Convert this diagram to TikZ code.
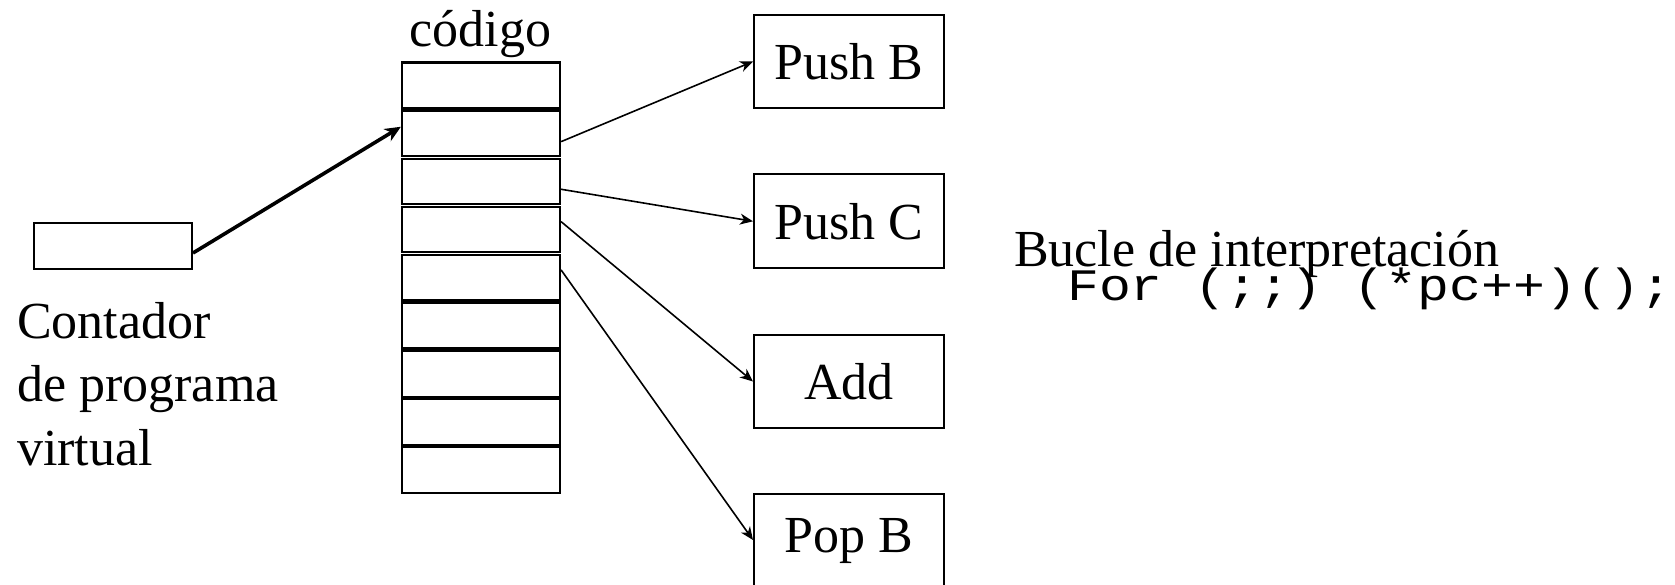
\documentclass[tikz,border=0pt]{standalone}
\usepackage{fontspec}
\setmainfont{Liberation Serif}
\setmonofont{Liberation Mono}
\newfontfamily\codefont[FakeStretch=1.18]{Liberation Mono}
\usetikzlibrary{arrows.meta}
\begin{document}
\begin{tikzpicture}[x=1pt,y=-1pt,
  cell/.style={draw,line width=2.2pt,minimum width=158pt,minimum height=45.5pt,inner sep=0pt},
  opbox/.style={draw,line width=2pt,minimum width=190pt,minimum height=93.6pt,inner sep=0pt,font=\fontsize{52}{62}\selectfont},
  pcbox/.style={draw,line width=2pt,minimum width=158pt,minimum height=46pt,inner sep=0pt},
  lbl/.style={inner sep=0pt,font=\fontsize{52}{63.5}\selectfont},
  thin/.style={line width=1.6pt,-{Stealth[length=13pt,width=11pt,inset=4pt]}},
  thick/.style={line width=3.6pt,-{Stealth[length=16pt,width=14pt,inset=5pt]}}]
\useasboundingbox (0,0) rectangle (1675,585);
% code stack
\foreach \i in {1,...,9}{
  \node[cell] (c\i) at (481,{85.25+48.1*(\i-1)}) {};
}
\node[lbl,anchor=base] (codigo) at (480.5,46.7) {código};
% program counter
\node[pcbox] (pc) at (113,246) {};
\node[lbl,anchor=base west,align=left] (cnt) at (17,465) {Contador\\de programa\\virtual};
% operation boxes
\node[opbox] (pushb) at (849,61.5) {Push B};
\node[opbox] (pushc) at (849,221.3) {Push C};
\node[opbox] (add) at (849,381.5) {Add};
\node[opbox] (popb) at (849,541) {Pop B};
% loop text
\node[lbl,anchor=base west] (bucle) at (1014,266.7) {Bucle de interpretación};
\node[inner sep=0pt,anchor=base west,font=\fontsize{45}{54}\selectfont] (for) at (1067,300) {\codefont For (;;) (*pc++)();};
% connectors
\draw[thick] ([yshift=-7pt]pc.east) -- ([yshift=6.6pt]c2.west);
\draw[thin] ([yshift=-8.3pt]c2.east) -- (pushb.west);
\draw[thin] ([yshift=-7.8pt]c3.east) -- (pushc.west);
\draw[thin] ([yshift=7.9pt]c4.east) -- (add.west);
\draw[thin] ([yshift=7.7pt]c5.east) -- ([yshift=1pt]popb.west);
\end{tikzpicture}
\end{document}
